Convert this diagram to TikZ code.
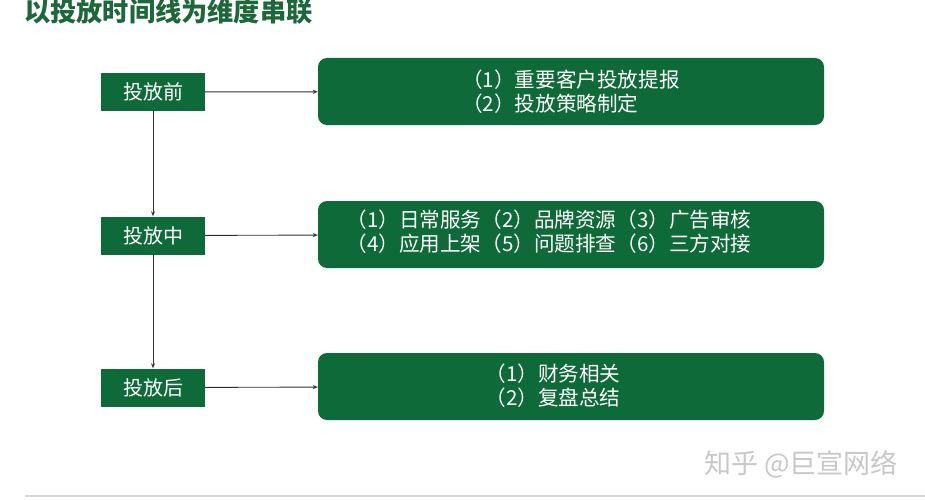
\documentclass[tikz,border=0pt]{standalone}
\usepackage{fontspec}
\newfontfamily\cjk{Noto Sans CJK SC}
\usetikzlibrary{arrows.meta}
\definecolor{boxgreen}{RGB}{14,106,56}
\definecolor{titlegreen}{RGB}{28,104,58}
\definecolor{linegray}{RGB}{50,50,50}
\definecolor{wmgray}{RGB}{200,200,200}
\definecolor{rulegray}{RGB}{215,215,215}
\begin{document}
\begin{tikzpicture}[x=1pt,y=-1pt,
  phase/.style={fill=boxgreen,text=white,minimum width=104pt,minimum height=38pt,inner sep=0pt,font=\cjk\fontsize{20}{24}\selectfont},
  detail/.style={fill=boxgreen,rounded corners=9pt,minimum width=506pt,minimum height=67pt,inner sep=0pt},
  dtext/.style={text=white,inner sep=0pt,align=left,font=\cjk\fontsize{20.6}{24.5}\selectfont},
  conn/.style={draw=linegray,line width=0.9pt,-{Stealth[length=5pt,width=4pt]}}]
\useasboundingbox (0,0) rectangle (925,500);
\fill[white] (0,0) rectangle (925,500);
\node[anchor=west,text=titlegreen,font=\cjk\bfseries\fontsize{26.2}{28}\selectfont,inner sep=0pt] (title) at (24,12) {以投放时间线为维度串联};
\node[phase] (pre) at (153,92) {投放前};
\node[phase] (mid) at (153,235.5) {投放中};
\node[phase] (post) at (153,387.5) {投放后};
\node[detail] (d1) at (571,91.5) {};
\node[detail] (d2) at (571,234.5) {};
\node[detail] (d3) at (571,386.5) {};
\node[dtext] (t1) at ([yshift=0pt]d1.center) {（1）重要客户投放提报\\（2）投放策略制定};
\node[dtext] (t2) at ([xshift=-22pt,yshift=3pt]d2.center) {（1）日常服务（2）品牌资源（3）广告审核\\（4）应用上架（5）问题排查（6）三方对接};
\node[dtext] (t3) at ([xshift=-18pt,yshift=1pt]d3.center) {（1）财务相关\\（2）复盘总结};
\draw[conn] (pre) -- (d1);
\draw[conn] (mid) -- (d2);
\draw[conn] (post) -- (d3);
\draw[conn] (pre) -- (mid);
\draw[conn] (mid) -- (post);
\node[anchor=west,text=wmgray,font=\cjk\fontsize{27}{29}\selectfont,inner sep=0pt] (wm) at (704,464) {知乎 @巨宣网络};
\coordinate (r1) at (25,496);
\coordinate (r2) at (925,496);
\draw[rulegray,line width=1.2pt] (r1) -- (r2);
\end{tikzpicture}
\end{document}
